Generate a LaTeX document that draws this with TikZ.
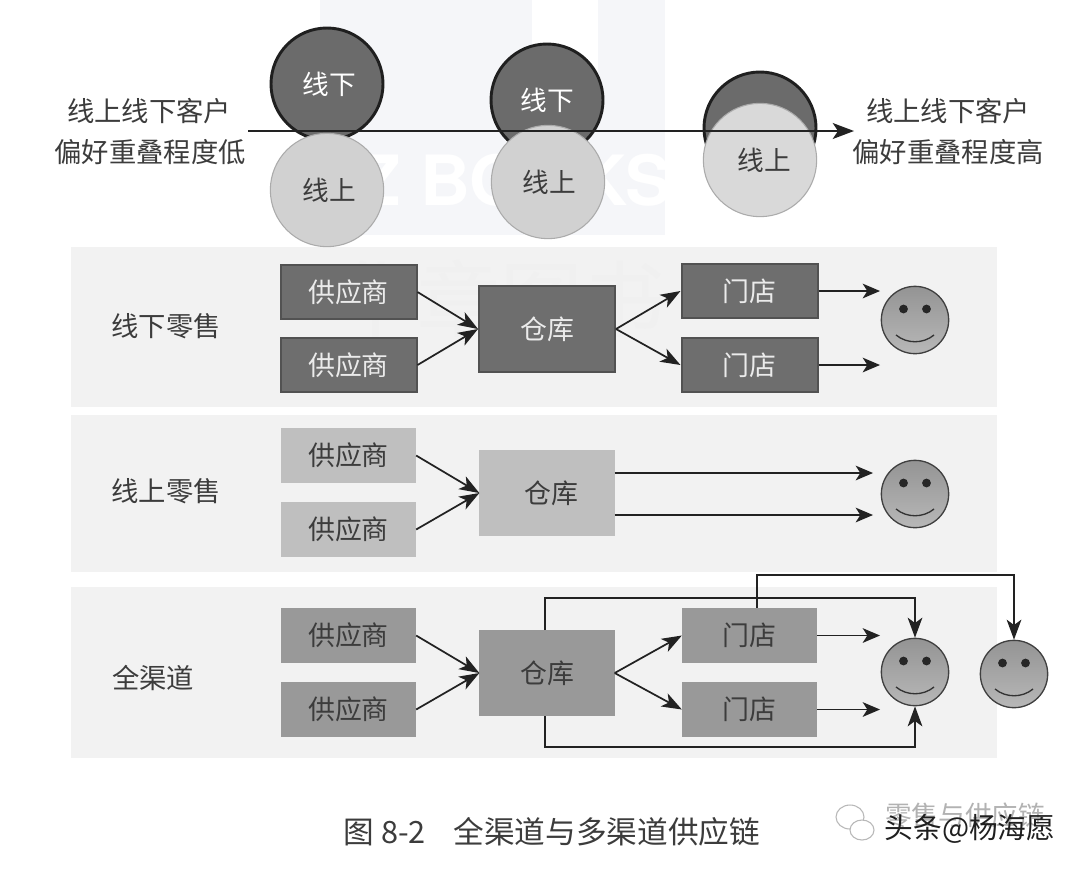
\documentclass[tikz,border=0pt]{standalone}
\usepackage{fontspec}
\setmainfont{Noto Sans CJK SC}
\newfontfamily\wmfont{TeX Gyre Heros}
\usetikzlibrary{arrows.meta,calc}
\definecolor{panel}{HTML}{F2F2F2}
\definecolor{ink}{HTML}{222222}
\definecolor{txt}{HTML}{3C3C3C}
\definecolor{tint}{HTML}{F5F6F9}
\tikzset{
  px/.style={x=0.75pt,y=-0.75pt},
  lab/.style={font=\fontsize{20.5pt}{30pt}\selectfont,text=txt,inner sep=0pt},
  boxbase/.style={draw,line width=1.5pt,minimum width=100pt,minimum height=40pt,inner sep=0pt,font=\fontsize{20.2pt}{24pt}\selectfont},
  darkbox/.style={boxbase,minimum width=102pt,minimum height=41pt,fill=black!57,draw=black!68,text=white!92!black},
  lightbox/.style={boxbase,fill=black!25,draw=black!25,text=txt},
  midbox/.style={boxbase,fill=black!40,draw=black!40,text=txt},
  conn/.style={draw=ink,line width=1.3pt,-{Stealth[length=15pt,width=11pt,inset=4pt]}},
  connb/.style={draw=ink,line width=1.3pt,-{Stealth[length=13pt,width=11pt,inset=3.5pt]}},
  pan/.style={fill=panel,draw=none},
  smile/.style={circle,draw=black!75,line width=1pt,top color=black!42,bottom color=black!28,minimum size=50.5pt,inner sep=0pt},
  cl/.style={font=\fontsize{20pt}{24pt}\selectfont},
  darkc/.style={circle,cl,draw=black!88,line width=2.2pt,fill=black!58,minimum size=84pt,inner sep=0pt,text=white},
  lightc/.style={circle,cl,draw=black!33,line width=.8pt,fill=black!18,minimum size=85pt,inner sep=0pt,text=txt},
}
\newcommand{\face}[1]{%
  \fill[black!85] ($(#1)+(-11.5,-11)$) circle (3.3pt);
  \fill[black!85] ($(#1)+(11.5,-11)$) circle (3.3pt);
  \draw[black!80,line width=1pt] ($(#1)+(-19,15)$) .. controls ($(#1)+(-8,24)$) and ($(#1)+(8,24)$) .. ($(#1)+(19,15)$);
}
\begin{document}
\begin{tikzpicture}[px]
\useasboundingbox (0,0) rectangle (1080,869);
\fill[white] (0,0) rectangle (1080,869);
% faint watermark
\fill[tint] (320,0) rectangle (665,235);
\fill[white] (532,0) rectangle (598,90);
\node[font=\wmfont\bfseries\fontsize{52pt}{52pt}\selectfont,text=white,inner sep=0pt] (wm) at (490,180) {HZ BOOKS};
% panels
\fill[pan] (71,247) rectangle (997,407);
\fill[pan] (71,415) rectangle (997,572);
\fill[pan] (71,587) rectangle (997,758);
\node[font=\fontsize{62pt}{62pt}\selectfont,text=black!6,inner sep=0pt] (wm2) at (500,298) {华章图书};
% circles
\node[darkc] (d1) at (327,84) {\hspace*{3pt}线下};
\node[lightc] (l1) at (327,190) {\hspace*{3pt}线上};
\node[darkc] (d2) at (547,100) {线下};
\node[lightc] (l2) at (548,182) {\hspace*{2pt}线上};
\node[darkc] (d3) at (760,128) {};
\node[lightc,fill=black!15] (l3) at (760,160) {\hspace*{6pt}线上};
% top labels and axis
\node[lab] (ll1) at (149,111) {线上线下客户};
\node[lab] (ll2) at (150,152) {偏好重叠程度低};
\node[lab] (rl1) at (948,111) {线上线下客户};
\node[lab] (rl2) at (948,152) {偏好重叠程度高};
\coordinate (axA) at (248,131);
\coordinate (axB) at (854,131);
\draw[draw=ink,line width=1.2pt,-{Stealth[length=16pt,width=12pt,inset=4pt]}] (axA) -- (axB);
% row labels
\node[lab] (r1) at (166,326) {线下零售};
\node[lab] (r2) at (166,491) {线上零售};
\node[lab] (r3) at (153,678) {全渠道};
% row 1
\node[darkbox] (s11) at (348.5,292) {供应商};
\node[darkbox] (s12) at (348.5,365) {供应商};
\node[darkbox,minimum height=65pt] (w1) at (547,329) {仓库};
\node[darkbox] (m11) at (749.5,291) {门店};
\node[darkbox] (m12) at (749.5,365) {门店};
\node[smile] (f1) at (915,320) {}; \face{f1}
\coordinate (e11) at (880,291);
\coordinate (e12) at (880,365);
\draw[conn] (s11.east) -- (w1.west);
\draw[conn] (s12.east) -- (w1.west);
\draw[conn] (w1.east) -- (m11.west);
\draw[conn] (w1.east) -- (m12.west);
\draw[connb] (m11.east) -- (e11);
\draw[connb] (m12.east) -- (e12);
% row 2
\node[lightbox] (s21) at (348.5,455.5) {供应商};
\node[lightbox] (s22) at (348.5,529.5) {供应商};
\node[lightbox,minimum height=63pt] (w2) at (547,493) {\hspace*{6pt}仓库};
\node[smile] (f2) at (915,494) {}; \face{f2}
\coordinate (e21) at (873,473);
\coordinate (e22) at (873,515);
\draw[conn] (s21.east) -- (w2.west);
\draw[conn] (s22.east) -- (w2.west);
\draw[connb] (w2.east |- e21) -- (e21);
\draw[connb] (w2.east |- e22) -- (e22);
% row 3
\node[midbox] (s31) at (348.5,635.5) {供应商};
\node[midbox] (s32) at (348.5,709.5) {供应商};
\node[midbox,minimum height=63pt] (w3) at (547,673) {仓库};
\node[midbox] (m31) at (749.5,635.5) {门店};
\node[midbox] (m32) at (749.5,709.5) {门店};
\node[smile] (f3) at (915,672) {}; \face{f3}
\node[smile] (f4) at (1014,674) {}; \face{f4}
\coordinate (e31) at (880,635.5);
\coordinate (e32) at (880,709.5);
\draw[conn] (s31.east) -- (w3.west);
\draw[conn] (s32.east) -- (w3.west);
\draw[conn] (w3.east) -- (m31.west);
\draw[conn] (w3.east) -- (m32.west);
\draw[connb] (m31.east) -- (e31);
\draw[connb] (m32.east) -- (e32);
\coordinate (wt) at (545,598);
\coordinate (wb) at (545,747);
\coordinate (st) at (757,575);
\draw[conn] (wt |- w3.north) -- (wt) -| (f3.north);
\draw[conn] (wb |- w3.south) -- (wb) -| (f3.south);
\draw[conn] (st |- m31.north) -- (st) -| (f4.north);
% caption and marks
\node[font=\fontsize{23pt}{28pt}\selectfont,text=txt,inner sep=0pt] (cap) at (552,832) {图 8-2\hspace{0.9em}全渠道与多渠道供应链};
% wechat mark
\draw[black!28,line width=.8pt] (850,817) ellipse [x radius=14, y radius=12];
\draw[black!28,line width=.8pt,fill=white] (862,830) ellipse [x radius=12, y radius=10];
\node[font=\fontsize{20pt}{24pt}\selectfont,text=black!30,inner sep=0pt] (wx) at (965,815) {零售与供应链};
\node[font=\fontsize{21.5pt}{24pt}\selectfont,text=black!88,inner sep=0pt] (tt) at (970,829) {头条@杨海愿};
\end{tikzpicture}
\end{document}
